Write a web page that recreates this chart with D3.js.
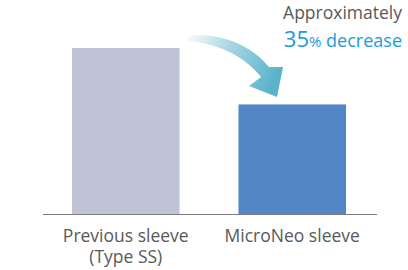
<!DOCTYPE html>
<html><head><meta charset="utf-8">
<script src="https://cdn.jsdelivr.net/npm/d3@7"></script>
<style>html,body{margin:0;padding:0;background:#fff;}svg{display:block;}</style>
</head><body>
<svg id="c" width="408" height="270"></svg>
<script>
const categories = ["Previous sleeve", "MicroNeo sleeve"];
const labelLines = [["Previous sleeve", "(Type SS)"], ["MicroNeo sleeve"]];
const values = [100, 66];
const barColors = ["#bec4d6", "#5187c6"];
const noteLine1 = "Approximately";
const notePct = "35";
const noteRest = " decrease";

const svg = d3.select("#c");
const font = "'Open Sans', 'Noto Sans', sans-serif";

const x = d3.scaleBand().domain(categories).range([72, 346]).paddingInner(0.354).paddingOuter(0);
const y = d3.scaleLinear().domain([0, 100]).range([214, 48]);

// gradient for arrow
const defs = svg.append("defs");
const g = defs.append("linearGradient").attr("id", "ag")
  .attr("gradientUnits", "userSpaceOnUse").attr("x1", 188).attr("y1", 40).attr("x2", 275).attr("y2", 80);
g.append("stop").attr("offset", 0).attr("stop-color", "#f2f9fb");
g.append("stop").attr("offset", 0.45).attr("stop-color", "#a5d4e2");
g.append("stop").attr("offset", 1).attr("stop-color", "#58b3cb");

svg.selectAll("rect.bar").data(values).join("rect").attr("class", "bar")
  .attr("x", (d, i) => x(categories[i]))
  .attr("width", x.bandwidth())
  .attr("y", d => y(d))
  .attr("height", d => y(0) - y(d))
  .attr("fill", (d, i) => barColors[i]);

// axis baseline
svg.append("line").attr("x1", 43).attr("x2", 377).attr("y1", y(0) + 0.5).attr("y2", y(0) + 0.5)
  .attr("stroke", "#7d7d7d").attr("stroke-width", 1.2);

// category labels
categories.forEach((c, i) => {
  const t = svg.append("text").attr("text-anchor", "middle")
    .attr("font-family", font).attr("font-size", 17.5).attr("fill", "#595959");
  labelLines[i].forEach((ln, j) => {
    t.append("tspan").attr("x", x(c) + x.bandwidth() / 2).attr("y", 242 + j * 20.5).text(ln);
  });
});

// curved arrow
svg.append("path")
  .attr("d", "M188,36 C212,32.5 247,40 269,67 L283,67 L277,97 L249,86 L261,77 C244,55 215,43 188,41 Z")
  .attr("fill", "url(#ag)");

// annotation
svg.append("text").attr("x", 402).attr("y", 19).attr("text-anchor", "end")
  .attr("font-family", font).attr("font-size", 17.5).attr("fill", "#595959").text(noteLine1);
const t2 = svg.append("text").attr("x", 402).attr("y", 47).attr("text-anchor", "end")
  .attr("font-family", font).attr("fill", "#1b9bd7");
t2.append("tspan").attr("font-size", 22).text(notePct);
t2.append("tspan").attr("font-size", 15).text("%");
t2.append("tspan").attr("font-size", 18).text(noteRest);
</script>
</body></html>
